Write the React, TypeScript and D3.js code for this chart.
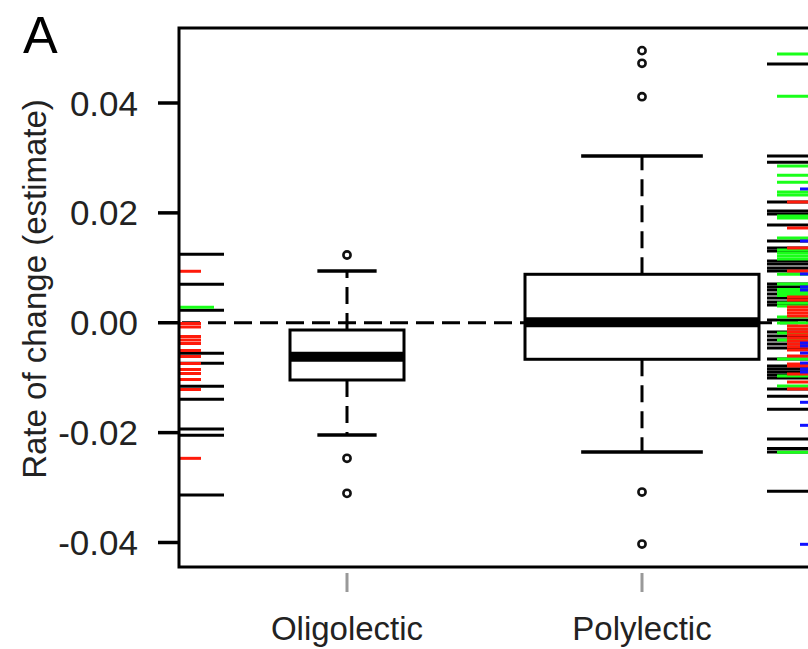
import React from "react";
import * as d3 from "d3";

// ---- data ----
const categories = ["Oligolectic", "Polylectic"];
const boxLowWhisker = [-0.02044, -0.02353];
const boxQ1 = [-0.01042, -0.00665];
const boxMedian = [-0.00618, 0.0001];
const boxQ3 = [-0.00132, 0.00882];
const boxHighWhisker = [0.00942, 0.03036];
const outliersOligolectic = [0.01233, -0.02467, -0.03105];
const outliersPolylectic = [0.04953, 0.04723, 0.04115, -0.03082, -0.04028];
const yTicks = [-0.04, -0.02, 0.0, 0.02, 0.04];

const rugLeftBlack = [0.01246, 0.007, 0.00227, -0.00556, -0.00738, -0.01157, -0.01394, -0.01934, -0.02049, -0.03136];
const rugLeftRed = [0.00937, -0.00014, -0.00077, -0.0025, -0.00314, -0.00378, -0.00505, -0.00614, -0.00742, -0.00851, -0.00924, -0.01033, -0.01215, -0.02468];
const rugLeftGreen = [0.00281];

const rugRightBlack = [0.04711, 0.03036, 0.02921, 0.02198, 0.02034, 0.0198, 0.0178, 0.01488, 0.01361, 0.01306, 0.01124, 0.0107, 0.00997, 0.00942, 0.00705, 0.00651, 0.00596, 0.00523, 0.00451, 0.00378, 0.00323, 0.0005, -0.00168, -0.00241, -0.00314, -0.00387, -0.0046, -0.0066, -0.00787, -0.00842, -0.00897, -0.00951, -0.01006, -0.01206, -0.01339, -0.01576, -0.02116, -0.02289, -0.02353, -0.03068];
const rugRightGreen = [0.04893, 0.04123, 0.02854, 0.02684, 0.02557, 0.0238, 0.02326, 0.01943, 0.01907, 0.01543, 0.01324, 0.0127, 0.01215, 0.01161, 0.00882, 0.00705, 0.00605, 0.00551, 0.00496, 0.0036, 0.00305, 0.00105, -0.00005, -0.00187, -0.00314, -0.0066, -0.00969, -0.01151, -0.02358];
const rugRightRed = [0.02198, 0.01725, 0.01361, 0.00942, 0.00469, 0.00414, 0.00287, 0.00232, 0.00177, 0.00123, -0.00059, -0.00114, -0.00168, -0.00223, -0.00278, -0.00332, -0.00387, -0.00441, -0.00496, -0.00605, -0.00751, -0.00787, -0.00933, -0.01079, -0.01206];
const rugRightBlue = [0.02435, 0.01488, 0.00887, 0.00651, 0.00596, -0.00369, -0.00423, -0.00551, -0.00733, -0.00842, -0.00897, -0.01448, -0.01867, -0.04033];

const yTitle = "Rate of change (estimate)";
const panelLabel = "A";

export default function App() {
  const W = 808, H = 649;
  const left = 179, right = 812, top = 28, bottom = 567;
  const y = d3.scaleLinear().domain([-0.04, 0.04]).range([542.5, 103]);
  const x = d3.scalePoint<string>().domain(categories).range([347, 642]);
  const halfW: Record<string, number> = { Oligolectic: 57, Polylectic: 117 };
  const outliers = [outliersOligolectic, outliersPolylectic];
  const font = "'Liberation Sans', Arial, Helvetica, sans-serif";
  const fmt = (v: number) => d3.format(".2f")(v).replace("\u2212", "-");

  const rug = (vals: number[], x1: number, x2: number, color: string, key: string) =>
    vals.map((v, i) => (
      <line key={key + i} x1={x1} x2={x2} y1={y(v)} y2={y(v)} stroke={color} strokeWidth={3} />
    ));

  return (
    <svg width={W} height={H} style={{ position: "absolute", left: 0, top: 0, background: "#fff" }}>
      <rect x={0} y={0} width={W} height={H} fill="#fff" />
      {/* boxes */}
      {categories.map((c, i) => {
        const cx = x(c)!;
        const hw = halfW[c];
        const cap = hw * 0.52;
        return (
          <g key={c}>
            <line x1={cx} x2={cx} y1={y(boxQ3[i])} y2={y(boxHighWhisker[i])} stroke="#000" strokeWidth={3} strokeDasharray="17,9" />
            <line x1={cx} x2={cx} y1={y(boxQ1[i])} y2={y(boxLowWhisker[i])} stroke="#000" strokeWidth={3} strokeDasharray="17,9" />
            <line x1={cx - cap} x2={cx + cap} y1={y(boxHighWhisker[i])} y2={y(boxHighWhisker[i])} stroke="#000" strokeWidth={3.5} />
            <line x1={cx - cap} x2={cx + cap} y1={y(boxLowWhisker[i])} y2={y(boxLowWhisker[i])} stroke="#000" strokeWidth={3.5} />
            <rect x={cx - hw} y={y(boxQ3[i])} width={2 * hw} height={y(boxQ1[i]) - y(boxQ3[i])} fill="#fff" stroke="#000" strokeWidth={3} />
            <line x1={cx - hw} x2={cx + hw} y1={y(boxMedian[i])} y2={y(boxMedian[i])} stroke="#000" strokeWidth={10} />
            {outliers[i].map((v, j) => (
              <circle key={j} cx={cx} cy={y(v)} r={3.6} fill="none" stroke="#111" strokeWidth={2.6} />
            ))}
          </g>
        );
      })}
      {/* zero reference line */}
      <line x1={182} x2={right} y1={y(0)} y2={y(0)} stroke="#000" strokeWidth={3} strokeDasharray="18,8" />
      {/* rugs */}
      {rug(rugLeftBlack, left, 224, "#000", "lb")}
      {rug(rugLeftGreen, left, 214, "#19ff19", "lg")}
      {rug(rugLeftRed, left, 201, "#ff1a0a", "lr")}
      {rug(rugRightBlack, 767, right, "#000", "rb")}
      {rug(rugRightGreen, 777, right, "#19ff19", "rg")}
      {rug(rugRightRed, 787, right, "#ff1a0a", "rr")}
      {rug(rugRightBlue, 800, right, "#1010ff", "rbl")}
      {/* frame */}
      <rect x={left} y={top} width={right - left} height={bottom - top} fill="none" stroke="#000" strokeWidth={3} />
      {/* y axis */}
      {yTicks.map((t) => (
        <g key={t}>
          <line x1={158} x2={left} y1={y(t)} y2={y(t)} stroke="#000" strokeWidth={3.5} />
          <text x={138} y={y(t)} dy="0.36em" textAnchor="end" fontFamily={font} fontSize={35} fill="#222">
            {fmt(t)}
          </text>
        </g>
      ))}
      {/* x axis */}
      {categories.map((c) => (
        <g key={c}>
          <line x1={x(c)!} x2={x(c)!} y1={573} y2={592} stroke="#999" strokeWidth={3} />
          <text x={x(c)!} y={640} textAnchor="middle" fontFamily={font} fontSize={33} fill="#222">
            {c}
          </text>
        </g>
      ))}
      <text transform={`translate(46,289) rotate(-90)`} textAnchor="middle" fontFamily={font} fontSize={33} fill="#222">
        {yTitle}
      </text>
      <text x={23} y={53} fontFamily={font} fontSize={52} fill="#000">
        {panelLabel}
      </text>
    </svg>
  );
}
